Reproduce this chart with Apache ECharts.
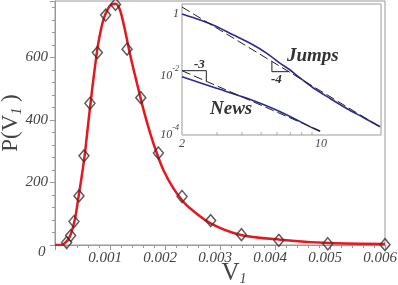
<!DOCTYPE html>
<html><head><meta charset="utf-8">
<script src="https://cdn.jsdelivr.net/npm/echarts@6/dist/echarts.min.js"></script>
<style>html,body{margin:0;padding:0;background:#fff}#c{width:398px;height:285px}</style>
</head><body><div id="c"></div>
<script>
// ---- main panel data ----
const markerV = [0.000212,0.000285,0.000345,0.000436,0.000527,0.000636,0.000770,0.000921,0.00110,0.00131,0.00156,0.00188,0.00231,0.00283,0.00339,0.00407,0.00496,0.00600];
const markerP = [8,30,75,157,285,453,615,735,769,626,471,294,155,78,33,15,4,1];
const fitV = [0,0.00009,0.00018,0.00027,0.00036,0.00042,0.000485,0.000545,0.000605,0.000667,0.000727,0.000787,0.000878,0.000969,0.00103,0.00110,0.00118,0.00127,0.00136,0.00149,0.00161,0.00173,0.00185,0.00197,0.00215,0.00233,0.00245,0.00282,0.00336,0.00409,0.0050,0.0060];
const fitP = [0,0,6,27,81,145,219,294,390,485,570,645,719,757,769,771,752,689,613,517,432,358,294,240,182,139,118,70,33,17,6,3];
const mainXTicks = [0.001,0.002,0.003,0.004,0.005,0.006];
const mainYTicks = [200,400,600];
// ---- inset data ----
const jumpsX = [2,2.47,3.0,3.63,4.40,5.34,6.23,6.99,7.69,9.15,11.1,13.45,16.3,19.8];
const jumpsY = [1.0,0.626,0.371,0.194,0.1016,0.0466,0.0213,0.01264,0.0075,0.0031,0.00137,0.000626,0.00031,0.000151];
const jumpsGuideX = [2,19.8];
const jumpsGuideY = [1.73,0.000148];
const newsX = [2,2.88,4.24,6.23,9.15,9.89];
const newsY = [0.0075,0.00327,0.00139,0.000487,0.000133,0.000105];
const newsGuideX = [2,9.89];
const newsGuideY = [0.012,0.000108];
const tri3X = [2,2.65,2.65];
const tri3Y = [0.012,0.012,0.0053];
const tri4X = [5.66,5.66,6.85];
const tri4Y = [0.0245,0.0111,0.0111];
const insetMinorX = [3,4,5,6,7,8,9];
const insetXMin = 2, insetXMax = 20, insetYMin = 7.9e-5, insetYMax = 2.19;

const zip = (a,b) => a.map((v,i)=>[v,b[i]]);
const SERIF = 'Liberation Serif';
const GRAY = '#999';
const TXT = '#444';

const chart = echarts.init(document.getElementById('c'), null, {renderer:'canvas'});
chart.setOption({
  animation:false,
  backgroundColor:'#fff',
  grid:[
    {left:55,right:13,top:1,bottom:40,show:true,borderColor:GRAY,borderWidth:1,backgroundColor:'transparent',containLabel:false,outerBoundsMode:'none'},
    {left:182,right:17,top:4,bottom:150,show:true,borderColor:GRAY,borderWidth:1,backgroundColor:'#fff',z:5,containLabel:false,outerBoundsMode:'none'}
  ],
  xAxis:[
    {type:'value',gridIndex:0,min:0,max:0.006,interval:0.001,
     name:'V{s|1}',nameLocation:'middle',nameGap:15,nameMoveOverlap:false,
     nameTextStyle:{fontFamily:SERIF,fontSize:25,color:TXT,padding:[0,0,0,28],
       rich:{s:{fontFamily:SERIF,fontSize:14,fontStyle:'italic',color:TXT,verticalAlign:'bottom',padding:[12,0,0,0]}}},
     axisLine:{lineStyle:{color:GRAY}},
     axisTick:{show:true,inside:false,length:5,lineStyle:{color:GRAY}},
     minorTick:{show:true,splitNumber:5,length:3,lineStyle:{color:GRAY}},
     splitLine:{show:false},
     axisLabel:{margin:6,fontFamily:SERIF,fontStyle:'italic',fontSize:15,color:TXT,padding:[0,10,0,0],
       formatter:v=>mainXTicks.some(t=>Math.abs(t-v)<1e-9)?v.toFixed(3):''}},
    {type:'log',gridIndex:1,logBase:10,min:insetXMin,max:insetXMax,
     axisLine:{show:false},
     axisTick:{show:true,inside:true,length:3,lineStyle:{color:GRAY}},
     splitLine:{show:false},
     axisLabel:{margin:3,fontFamily:SERIF,fontStyle:'italic',fontSize:12,color:TXT,showMaxLabel:false,
       formatter:v=>Math.abs(v-2)<1e-6?'2':(Math.abs(v-10)<1e-6?'10':'')}}
  ],
  yAxis:[
    {type:'value',gridIndex:0,min:0,max:780,interval:200,
     name:'P(V{s|1} )',nameLocation:'middle',nameGap:31,nameMoveOverlap:false,
     nameTextStyle:{fontFamily:SERIF,fontSize:23,color:TXT,
       rich:{s:{fontFamily:SERIF,fontSize:14,fontStyle:'italic',color:TXT,verticalAlign:'bottom',padding:[12,0,0,0]}}},
     axisLine:{show:true,lineStyle:{color:GRAY}},
     axisTick:{show:true,inside:false,length:5,lineStyle:{color:GRAY}},
     minorTick:{show:true,splitNumber:5,length:3,lineStyle:{color:GRAY}},
     splitLine:{show:false},
     axisLabel:{margin:7,fontFamily:SERIF,fontStyle:'italic',fontSize:15,color:TXT,
       formatter:v=>mainYTicks.includes(v)?String(v):''}},
    {type:'log',gridIndex:1,logBase:10,min:insetYMin,max:insetYMax,
     axisLine:{show:false},
     axisTick:{show:true,inside:true,length:3,lineStyle:{color:GRAY}},
     splitLine:{show:false},
     axisLabel:{margin:3,fontFamily:SERIF,fontStyle:'italic',fontSize:12,color:TXT,showMinLabel:false,showMaxLabel:false,
       formatter:function(v){const l=Math.log10(v),e=Math.round(l);if(Math.abs(l-e)>1e-6)return '';if(e===0)return '1';if(e%2)return '';return '{b|10}{s|'+e+'}';},
       rich:{b:{fontFamily:SERIF,fontStyle:'italic',fontSize:12,color:TXT,lineHeight:17,verticalAlign:'bottom'},
             s:{fontFamily:SERIF,fontStyle:'italic',fontSize:8,color:TXT,verticalAlign:'top'}}}}
  ],
  series:[
    {type:'line',xAxisIndex:0,yAxisIndex:0,data:zip(fitV,fitP),smooth:0.3,showSymbol:false,
     lineStyle:{color:'#e8161d',width:2.5},z:3},
    {type:'scatter',xAxisIndex:0,yAxisIndex:0,data:zip(markerV,markerP),symbol:'diamond',symbolSize:[10,12],
     itemStyle:{color:'transparent',borderColor:'#333',borderWidth:1.5},z:4},
    {type:'line',xAxisIndex:1,yAxisIndex:1,data:zip(jumpsX,jumpsY),smooth:0.3,showSymbol:false,
     lineStyle:{color:'#2b2b96',width:1.6},z:10},
    {type:'line',xAxisIndex:1,yAxisIndex:1,data:zip(newsX,newsY),smooth:0.3,showSymbol:false,
     lineStyle:{color:'#2b2b96',width:1.6},z:10},
    {type:'line',xAxisIndex:1,yAxisIndex:1,data:zip(jumpsGuideX,jumpsGuideY),showSymbol:false,
     lineStyle:{color:'#222',width:1,type:[9,4]},z:11},
    {type:'line',xAxisIndex:1,yAxisIndex:1,data:zip(newsGuideX,newsGuideY),showSymbol:false,
     lineStyle:{color:'#222',width:1,type:[9,4]},z:11},
    {type:'line',xAxisIndex:1,yAxisIndex:1,data:zip(tri3X,tri3Y),showSymbol:false,
     lineStyle:{color:'#222',width:1},z:11},
    {type:'line',xAxisIndex:1,yAxisIndex:1,data:zip(tri4X,tri4Y),showSymbol:false,
     lineStyle:{color:'#222',width:1},z:11},
    {type:'scatter',xAxisIndex:1,yAxisIndex:1,data:insetMinorX.map(v=>[v,insetYMin]),symbol:'rect',
     symbolSize:[1,3],symbolOffset:[0,-1.5],itemStyle:{color:GRAY},z:11}
  ],
  graphic:[
    {type:'text',left:38,top:245,z:20,style:{text:'0',fontFamily:SERIF,fontStyle:'italic',fontSize:15,fill:TXT}},
    {type:'text',left:287,top:47,z:20,style:{text:'Jumps',fontFamily:SERIF,fontStyle:'italic',fontWeight:'bold',fontSize:19,fill:'#333'}},
    {type:'text',left:210,top:100,z:20,style:{text:'News',fontFamily:SERIF,fontStyle:'italic',fontWeight:'bold',fontSize:19,fill:'#333'}},
    {type:'text',left:194,top:58,z:20,style:{text:'-3',fontFamily:SERIF,fontStyle:'italic',fontWeight:'bold',fontSize:13,fill:'#333'}},
    {type:'text',left:271,top:73,z:20,style:{text:'-4',fontFamily:SERIF,fontStyle:'italic',fontWeight:'bold',fontSize:13,fill:'#333'}}
  ]
});
</script></body></html>
